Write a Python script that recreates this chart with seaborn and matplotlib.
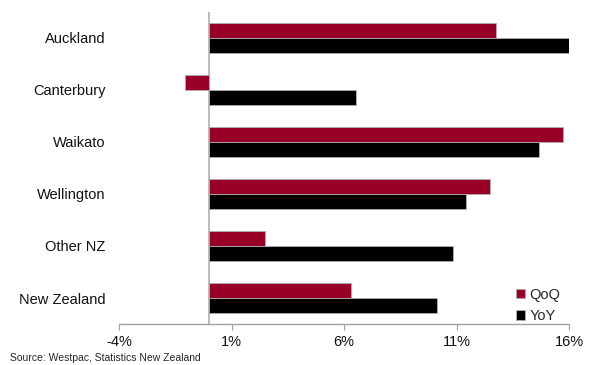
import pandas as pd
import matplotlib
matplotlib.use("Agg")
import matplotlib.pyplot as plt
import seaborn as sns
from matplotlib.ticker import FuncFormatter

regions = ["Auckland", "Canterbury", "Waikato", "Wellington", "Other NZ", "New Zealand"]
qoq = [12.75, -1.05, 15.75, 12.5, 2.5, 6.3]
yoy = [16.05, 6.55, 14.65, 11.4, 10.85, 10.15]
xticks = [-4, 1, 6, 11, 16]

df = pd.DataFrame({
    "region": regions * 2,
    "value": qoq + yoy,
    "series": ["QoQ"] * len(regions) + ["YoY"] * len(regions),
})

sns.set_style("white")
plt.rcParams["font.family"] = ["Liberation Sans", "DejaVu Sans"]

fig = plt.figure(figsize=(5.91, 3.65), dpi=100)
ax = fig.add_axes([0.2014, 0.1123, 0.7614, 0.855])

sns.barplot(data=df, x="value", y="region", hue="series", orient="h",
            palette={"QoQ": "#990028", "YoY": "#000000"}, saturation=1,
            width=0.56, edgecolor="#b0b0b0", linewidth=0.6, ax=ax)

ax.set_xlim(-4, 16)
ax.set_xticks(xticks)
ax.xaxis.set_major_formatter(FuncFormatter(lambda v, _: f"{v:.0f}%"))
ax.axvline(0, color="#b0b0b0", lw=1.2, zorder=0)
for s in ["top", "right", "left"]:
    ax.spines[s].set_visible(False)
ax.spines["bottom"].set_color("#a0a0a0")
ax.spines["bottom"].set_linewidth(1.0)
ax.tick_params(axis="x", bottom=True, length=4, color="#a0a0a0", labelsize=10.5,
               labelcolor="#111111", pad=4)
ax.tick_params(axis="y", left=False, labelsize=10.5, labelcolor="#111111", pad=6)
ax.set_xlabel("")
ax.set_ylabel("")

ax.legend(loc="lower right", frameon=False, fontsize=10.5, handlelength=0.6,
          handleheight=0.6, handletextpad=0.3, labelspacing=0.5,
          bbox_to_anchor=(1.0, -0.025), borderaxespad=0.2)

fig.text(0.017, 0.012, "Source: Westpac, Statistics New Zealand", fontsize=7.5)

fig.savefig("out.png", dpi=100)
